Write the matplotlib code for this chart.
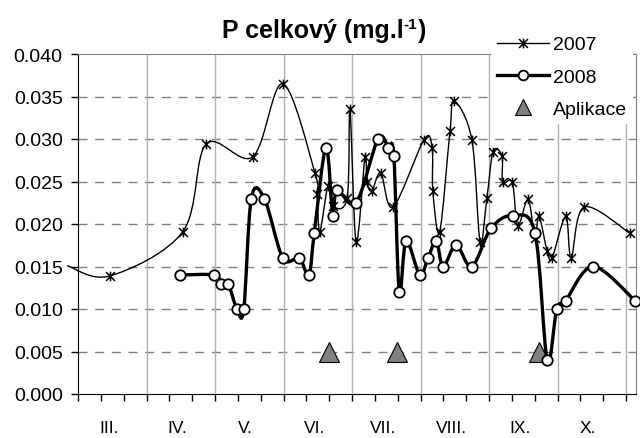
import numpy as np
import matplotlib
matplotlib.use("Agg")
import matplotlib.pyplot as plt
from matplotlib.path import Path
from matplotlib.patches import PathPatch
from matplotlib.lines import Line2D

plt.rcParams['font.family'] = ['Liberation Sans', 'DejaVu Sans']

# x positions in months from 1 March (0 = start of III.)
months = ["III.", "IV.", "V.", "VI.", "VII.", "VIII.", "IX.", "X."]

x2007 = [-0.16, 0.47, 1.53, 1.87, 2.55, 2.99, 3.46, 3.49, 3.53, 3.65, 3.72,
         3.93, 3.97, 4.06, 4.19, 4.22, 4.29, 4.42, 4.60, 5.05, 5.17, 5.18,
         5.28, 5.43, 5.49, 5.75, 5.87, 5.97, 6.06, 6.19, 6.20, 6.34, 6.42,
         6.57, 6.67, 6.73, 6.85, 6.92, 7.12, 7.20, 7.39, 8.06]
y2007 = [0.0151, 0.0139, 0.0191, 0.0294, 0.0279, 0.0365, 0.0260, 0.0235,
         0.0191, 0.0245, 0.0221, 0.0231, 0.0335, 0.0179, 0.0279, 0.0249,
         0.0239, 0.0260, 0.0220, 0.0299, 0.0290, 0.0239, 0.0191, 0.0309,
         0.0345, 0.0299, 0.0179, 0.0231, 0.0285, 0.0280, 0.0249, 0.0249,
         0.0198, 0.0229, 0.0184, 0.0209, 0.0168, 0.0160, 0.0209, 0.0160,
         0.0220, 0.0189]

x2008 = [1.49, 1.99, 2.09, 2.19, 2.32, 2.42, 2.53, 2.72, 2.99, 3.23, 3.37,
         3.45, 3.62, 3.72, 3.78, 4.06, 4.38, 4.53, 4.61, 4.69, 4.79, 4.99,
         5.11, 5.23, 5.33, 5.52, 5.75, 6.03, 6.35, 6.67, 6.85, 6.99, 7.12,
         7.52, 8.13]
y2008 = [0.014, 0.014, 0.013, 0.013, 0.010, 0.010, 0.023, 0.023, 0.016,
         0.016, 0.014, 0.019, 0.029, 0.021, 0.024, 0.0225, 0.030, 0.029,
         0.028, 0.012, 0.018, 0.014, 0.016, 0.018, 0.015, 0.0175, 0.015,
         0.0195, 0.021, 0.019, 0.004, 0.010, 0.011, 0.015, 0.011]

x_apl = [3.66, 4.66, 6.73]
y_apl = [0.005, 0.005, 0.005]


def smooth_path(xs, ys):
    """Excel-like smoothed line: cubic bezier through all points."""
    pts = np.column_stack([xs, ys])
    n = len(pts)
    verts = [pts[0]]
    codes = [Path.MOVETO]
    for i in range(n - 1):
        p0 = pts[max(i - 1, 0)]
        p1 = pts[i]
        p2 = pts[i + 1]
        p3 = pts[min(i + 2, n - 1)]
        verts += [p1 + (p2 - p0) / 6, p2 - (p3 - p1) / 6, p2]
        codes += [Path.CURVE4] * 3
    return Path(verts, codes)


star = Path([(-1, -1), (1, 1), (-1, 1), (1, -1), (0, -1.1), (0, 1.1)],
            [Path.MOVETO, Path.LINETO] * 3)

fig = plt.figure(figsize=(6.4, 4.39), dpi=100)
ax = fig.add_axes([78 / 640, 1 - 395 / 439, 558 / 640, 340 / 439])

xmax = 558 / 68.5
ax.set_xlim(0, xmax)
ax.set_ylim(0, 0.04)

# grid
for v in np.arange(0.005, 0.036, 0.005):
    ax.axhline(v, color='#808080', lw=1, dashes=(6.5, 5.5), zorder=0)
for m in range(1, 9):
    ax.axvline(m, color='#b0b0b0', lw=1, zorder=0)

for s in ['top', 'right']:
    ax.spines[s].set_color('#808080')
for s in ['left', 'bottom']:
    ax.spines[s].set_color('black')

# 2007
ax.add_patch(PathPatch(smooth_path(x2007, y2007), fill=False, lw=1.0,
                       edgecolor='black', clip_on=False, zorder=2))
ax.plot(x2007, y2007, ls='none', marker=star, ms=7, mfc='none', mec='black',
        mew=1.1, markevery=list(range(1, len(x2007))), clip_on=False, zorder=3)

# aplikace
ax.plot(x_apl, y_apl, ls='none', marker='^', ms=15, mfc='#808080',
        mec='black', mew=0.8, zorder=4)

# 2008
ax.add_patch(PathPatch(smooth_path(x2008, y2008), fill=False, lw=2.4,
                       edgecolor='black', clip_on=False, zorder=5))
ax.plot(x2008, y2008, ls='none', marker='o', ms=7.5, mfc='white',
        mec='black', mew=1.3, clip_on=False, zorder=6)

# ticks
ax.set_yticks(np.arange(0, 0.0401, 0.005))
ax.set_yticklabels(["%.3f" % v for v in np.arange(0, 0.0401, 0.005)])
ax.tick_params(axis='y', direction='out', length=5, width=1, pad=6,
               labelsize=14)
ax.set_xticks([m + 0.45 for m in range(len(months))])
ax.set_xticklabels(months, fontsize=12.5,
                   family=['Liberation Sans Narrow', 'Liberation Sans'])
ax.tick_params(axis='x', which='major', length=0, pad=19)
ax.set_xticks(np.arange(0, xmax, 1 / 3), minor=True)
ax.tick_params(axis='x', which='minor', direction='out', length=5, width=1)

# title with superscript
renderer = fig.canvas.get_renderer()
base_y = 1 - 38 / 439
t1 = fig.text(0, base_y, 'P celkový (mg.l', fontsize=18, fontweight='bold',
              va='baseline')
t2 = fig.text(0, base_y + 9 / 439, '-1', fontsize=11, fontweight='bold',
              va='baseline')
t3 = fig.text(0, base_y, ')', fontsize=18, fontweight='bold', va='baseline')
w1 = t1.get_window_extent(renderer).width / 640
w2 = t2.get_window_extent(renderer).width / 640
w3 = t3.get_window_extent(renderer).width / 640
x0 = 324 / 640 - (w1 + w2 + w3) / 2
t1.set_x(x0)
t2.set_x(x0 + w1)
t3.set_x(x0 + w1 + w2)

handles = [
    Line2D([], [], color='black', lw=1.0, marker=star, ms=7, mfc='none',
           mec='black', mew=1.1),
    Line2D([], [], color='black', lw=2.4, marker='o', ms=7, mfc='white',
           mec='black', mew=1.3),
    Line2D([], [], ls='none', marker='^', ms=11, mfc='#808080', mec='black',
           mew=0.8),
]
fig.legend(handles, ['2007', '2008', 'Aplikace'], loc='upper right',
           bbox_to_anchor=(633 / 640, 1 - 31 / 439), fontsize=14,
           frameon=True, facecolor='white', edgecolor='none', framealpha=1,
           fancybox=False, handlelength=2.7, handletextpad=0.2,
           labelspacing=0.75, borderpad=0.3, borderaxespad=0)

fig.savefig('out.png', dpi=100)
